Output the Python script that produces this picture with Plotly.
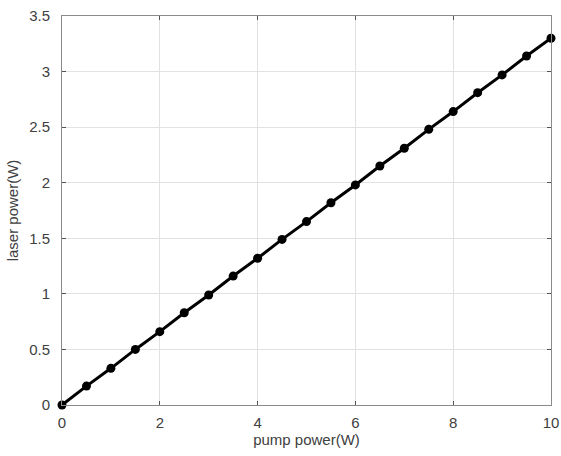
import plotly.graph_objects as go

pump_power = [0, 0.5, 1, 1.5, 2, 2.5, 3, 3.5, 4, 4.5, 5, 5.5, 6, 6.5, 7, 7.5, 8, 8.5, 9, 9.5, 10]
laser_power = [0, 0.17, 0.33, 0.50, 0.66, 0.83, 0.99, 1.16, 1.32, 1.49, 1.65,
               1.82, 1.98, 2.15, 2.31, 2.48, 2.64, 2.81, 2.97, 3.14, 3.30]
x_ticks = [0, 2, 4, 6, 8, 10]
y_ticks = [0, 0.5, 1, 1.5, 2, 2.5, 3, 3.5]
y_tick_labels = ["0", "0.5", "1", "1.5", "2", "2.5", "3", "3.5"]

fig = go.Figure()
fig.add_trace(go.Scatter(
    x=pump_power, y=laser_power, mode="lines+markers",
    line=dict(color="black", width=3),
    marker=dict(color="black", size=9),
    cliponaxis=False, showlegend=False,
))

axis_common = dict(
    showline=True, linecolor="#8a8a8a", linewidth=1, mirror="ticks",
    ticks="inside", ticklen=4, tickcolor="#555555",
    showgrid=True, gridcolor="#e2e2e2", gridwidth=1,
    zeroline=False, automargin=False, ticklabeloverflow="allow",
    tickfont=dict(family="Liberation Sans, Arial, sans-serif", size=15, color="#404040"),
    title_font=dict(family="Liberation Sans, Arial, sans-serif", size=15, color="#404040"),
)

fig.update_xaxes(range=[0, 10], tickvals=x_ticks, title_text="pump power(W)",
                 ticklabelstandoff=4, title_standoff=4, **axis_common)
fig.update_yaxes(range=[0, 3.5], tickvals=y_ticks, ticktext=y_tick_labels,
                 ticklabelstandoff=8, title_text="laser power(W)", title_standoff=6,
                 **axis_common)

fig.update_layout(
    width=561, height=456,
    margin=dict(l=62, r=10, t=16, b=51),
    plot_bgcolor="white", paper_bgcolor="white",
)

fig.write_html(
    "out.html",
    config={"displayModeBar": False},
    post_script="document.body.style.margin='0';document.body.style.overflow='hidden';",
)
